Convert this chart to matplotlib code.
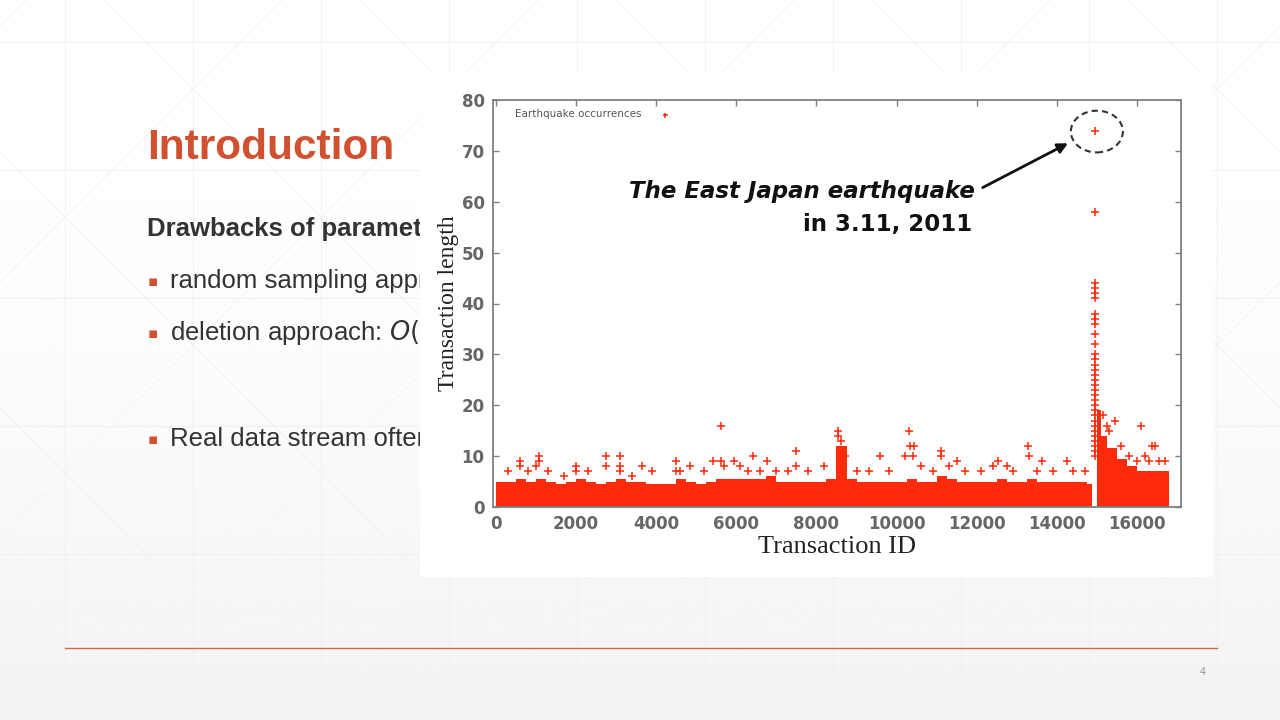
import numpy as np
import matplotlib.pyplot as plt
from matplotlib.patches import Rectangle, Ellipse

# --- datos ---
# banda densa antes del terremoto (inicio de cada tramo de 250 IDs, altura tipica)
band_edges = [0, 250, 500, 750, 1000, 1250, 1500, 1750, 2000, 2250,
              2500, 2750, 3000, 3250, 3500, 3750, 4000, 4250, 4500, 4750,
              5000, 5250, 5500, 5750, 6000, 6250, 6500, 6750, 7000, 7250,
              7500, 7750, 8000, 8250, 8500, 8750, 9000, 9250, 9500, 9750,
              10000, 10250, 10500, 10750, 11000, 11250, 11500, 11750, 12000, 12250,
              12500, 12750, 13000, 13250, 13500, 13750, 14000, 14250, 14500, 14750,
              14880]
band_heights = [5, 5, 5.5, 5, 5.5, 5, 4.5, 5, 5.5, 5,
                4.5, 5, 5.5, 5, 5, 4.5, 4.5, 4.5, 5.5, 5,
                4.5, 5, 5.5, 5.5, 5.5, 5.5, 5.5, 6, 5, 5,
                5, 5, 5, 5.5, 12, 5.5, 5, 5, 5, 5,
                5, 5.5, 5, 5, 6, 5.5, 5, 5, 5, 5,
                5.5, 5, 5, 5.5, 5, 5, 5, 5, 5, 4.5]

# banda densa despues del terremoto
after_edges = [15000, 15100, 15250, 15500, 15750, 16000, 16250, 16500, 16800]
after_heights = [19, 14, 11.5, 9.5, 8, 7, 7, 7]

# columna del terremoto
spike_id = 14960
spike_lengths = [74, 58, 44, 43, 42, 41, 38, 37, 36, 34, 32, 30, 29, 28, 27, 26,
                 25, 24, 23, 22, 21, 20, 19, 18, 17, 16, 15, 14, 13, 12, 11, 10]

# transacciones aisladas
out_ids = [600, 600, 1075, 1075, 1000, 2000, 2000, 2740, 2740, 3100, 3100, 3100,
           3640, 4490, 4490, 4840, 5420, 5620, 5620, 5950, 6420, 6770, 7490, 7490,
           8540, 8540, 8620, 8650, 8700, 9590, 10310, 10330, 10440, 10200, 10400,
           11100, 11100, 11500, 12540, 12750, 13280, 13300, 13620, 14250,
           300, 800, 1300, 1700, 2300, 3400, 3900, 4600, 5200, 5700, 6100, 6300,
           6600, 7000, 7300, 7800, 8200, 9000, 9300, 9800, 10600, 10900, 11300,
           11700, 12100, 12400, 12900, 13500, 13900, 14400, 14700,
           15450, 16090, 16380, 16450, 16200, 16700, 15300, 15600, 15800, 16000,
           16300, 16550, 15150, 15250]
out_lengths = [9, 8, 10, 9, 8, 8, 7, 10, 8, 10, 8, 7,
               8, 9, 7, 8, 9, 16, 9, 9, 10, 9, 11, 8,
               15, 14, 13, 11, 10, 10, 15, 12, 12, 10, 10,
               11, 10, 9, 9, 8, 12, 10, 9, 9,
               7, 7, 7, 6, 7, 6, 7, 7, 7, 8, 8, 7,
               7, 7, 7, 7, 8, 7, 7, 7, 8, 7, 8,
               7, 7, 8, 7, 7, 7, 7, 7,
               17, 16, 12, 12, 10, 9, 15, 12, 10, 9,
               9, 9, 18, 16]

x_ticks = [0, 2000, 4000, 6000, 8000, 10000, 12000, 14000, 16000]
y_ticks = [0, 10, 20, 30, 40, 50, 60, 70, 80]

RED = '#ff2a0a'
ORANGE = '#d0502f'

fig = plt.figure(figsize=(12.8, 7.2), dpi=100)

# --- fondo de la diapositiva (coordenadas en pixeles) ---
bg = fig.add_axes([0, 0, 1, 1], zorder=0)
bg.set_xlim(0, 1280)
bg.set_ylim(720, 0)
bg.axis('off')
grad = np.linspace(0, 1, 256)[:, None]
bg.imshow(1 - 0.05 * grad ** 2, cmap='gray', vmin=0, vmax=1, extent=[0, 1280, 720, 0],
          aspect='auto', zorder=0)
for gx in range(65, 1281, 128):
    bg.plot([gx, gx], [0, 720], color='#f1f1f1', lw=0.8, zorder=1)
for gy in range(42, 721, 128):
    bg.plot([0, 1280], [gy, gy], color='#f1f1f1', lw=0.8, zorder=1)
for k in range(-6, 16):
    x0 = 65 + 256 * k
    bg.plot([x0, x0 + 720], [-39, 681], color='#f4f4f4', lw=0.8, zorder=1)
    bg.plot([x0, x0 - 720], [-39, 681], color='#f4f4f4', lw=0.8, zorder=1)

bg.text(147, 159, 'Introduction', fontsize=30.5, fontweight='bold', color=ORANGE,
        family='Liberation Sans', va='baseline', zorder=3)
bg.text(147, 236, 'Drawbacks of paramet', fontsize=18.5, fontweight='bold', color='#333333',
        family='Liberation Sans', va='baseline', zorder=3)
bullets = ['random sampling appr', 'deletion approach: $O($', 'Real data stream often']
bullet_y = [288, 340, 446]
for txt, by in zip(bullets, bullet_y):
    bg.text(148, by - 2, '\u25aa', fontsize=11, color=ORANGE, family='DejaVu Sans',
            va='baseline', zorder=3)
    bg.text(170, by, txt, fontsize=18.5, color='#333333', family='Liberation Sans',
            va='baseline', zorder=3)

bg.plot([65, 1217], [648, 648], color='#d2684a', lw=1, zorder=3)
bg.text(1203, 672, '4', fontsize=7, color='#999999', ha='center', va='center', zorder=3)

# marco blanco de la imagen
bg.add_patch(Rectangle((420, 72), 793, 505, facecolor='white', edgecolor='none', zorder=10))

# --- grafico ---
ax = fig.add_axes([493 / 1280, (720 - 507) / 720, (1181 - 493) / 1280, (507 - 100) / 720],
                  zorder=2)
ax.set_facecolor('white')

ax.bar(band_edges[:-1], band_heights, width=np.diff(band_edges), align='edge',
       color=RED, edgecolor='none', zorder=2)
ax.bar(after_edges[:-1], after_heights, width=np.diff(after_edges), align='edge',
       color=RED, edgecolor='none', zorder=2)
ax.scatter([spike_id] * len(spike_lengths), spike_lengths, marker='+', s=36,
           color=RED, linewidths=1.1, zorder=3)
ax.scatter(out_ids, out_lengths, marker='+', s=36, color=RED, linewidths=1.1, zorder=3,
           label='Earthquake occurrences')

ax.set_xlim(-75, 17100)
ax.set_ylim(0, 80)
ax.set_xticks(x_ticks)
ax.set_yticks(y_ticks)
ax.tick_params(direction='in', top=True, right=True, length=4, width=1, color='#808080',
               labelsize=12, labelcolor='#666666', pad=6)
for lab in ax.get_xticklabels() + ax.get_yticklabels():
    lab.set_fontweight('bold')
for sp in ax.spines.values():
    sp.set_color('#808080')
    sp.set_linewidth(1.3)

ax.set_xlabel('Transaction ID', fontsize=19, family='Liberation Serif', color='#222222',
              labelpad=2)
ax.set_ylabel('Transaction length', fontsize=17, family='Liberation Serif', color='#222222',
              labelpad=2)

leg = ax.legend(loc='upper left', bbox_to_anchor=(0.018, 1.0), frameon=False, fontsize=7.5,
                markerfirst=False, handlelength=1.0, handletextpad=1.8, borderpad=0.4,
                labelcolor='#555555', markerscale=0.6)

ax.add_patch(Ellipse((15000, 73.8), width=1300, height=8.2, fill=False, edgecolor='#333333',
                     lw=1.5, linestyle=(0, (3, 2)), zorder=4))
ax.annotate('The East Japan earthquake', xy=(14280, 71.5), xytext=(11957, 62),
            fontsize=16.5, fontweight='bold', fontstyle='italic', family='DejaVu Sans',
            color='#111111', ha='right', va='center',
            arrowprops=dict(arrowstyle='-|>', color='#111111', lw=2, mutation_scale=15,
                            relpos=(1.0, 0.5), shrinkA=4, shrinkB=0))
ax.text(11882, 55.6, 'in 3.11, 2011', fontsize=16.5, fontweight='bold', family='DejaVu Sans',
        color='#111111', ha='right', va='center')

fig.savefig('out.png', dpi=100)
